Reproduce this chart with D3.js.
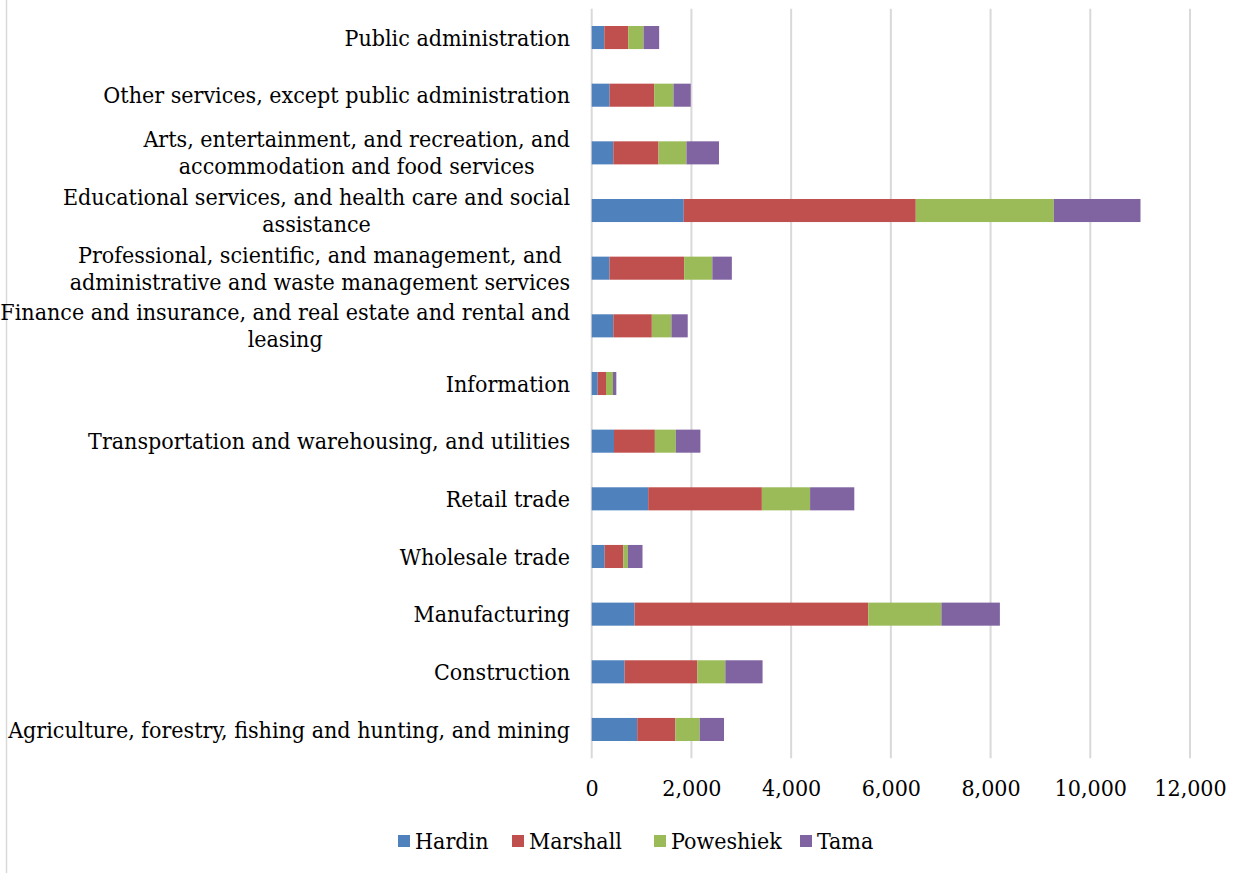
<!DOCTYPE html>
<html>
<head>
<meta charset="utf-8">
<script src="https://cdn.jsdelivr.net/npm/d3@7"></script>
<style>
  html, body { margin: 0; padding: 0; background: #fff; }
  svg { display: block; }
  text { font-family: "DejaVu Serif Condensed", "DejaVu Serif", serif; font-stretch: condensed; fill: #000; }
</style>
</head>
<body>
<svg id="chart" width="1250" height="873"></svg>
<script>
// Industries, top to bottom; each entry is a list of label lines
const industries = [
  ["Public administration"],
  ["Other services, except public administration"],
  ["Arts, entertainment, and recreation, and", "accommodation and food services"],
  ["Educational services, and health care and social", "assistance"],
  ["Professional, scientific, and management, and", "administrative and waste management services"],
  ["Finance and insurance, and real estate and rental and", "leasing"],
  ["Information"],
  ["Transportation and warehousing, and utilities"],
  ["Retail trade"],
  ["Wholesale trade"],
  ["Manufacturing"],
  ["Construction"],
  ["Agriculture, forestry, fishing and hunting, and mining"]
];

// Employment by county, same order as industries
const hardin    = [253, 360, 433, 1846, 357, 433, 120, 447, 1133, 260, 860, 660, 913];
const marshall  = [480, 893, 907, 4654, 1497, 773, 167, 820, 2280, 373, 4687, 1460, 767];
const poweshiek = [307, 387, 560, 2769, 565, 393, 140, 420, 967, 93, 1467, 560, 487];
const tama      = [313, 347, 653, 1738, 392, 327, 67, 493, 887, 293, 1173, 747, 487];

const countyNames = ["Hardin", "Marshall", "Poweshiek", "Tama"];
const countyColors = ["#4F81BD", "#C0504D", "#9BBB59", "#8064A2"];
const xTickValues = [0, 2000, 4000, 6000, 8000, 10000, 12000];

const svg = d3.select("#chart");
const plot = { left: 591.7, right: 1190, top: 8.7, bottom: 758.3 };
const labelRight = 570;
const fontSize = 23;

const rows = industries.map((lines, i) => ({
  key: lines.join(" "),
  Hardin: hardin[i], Marshall: marshall[i], Poweshiek: poweshiek[i], Tama: tama[i]
}));

const x = d3.scaleLinear().domain([0, 12000]).range([plot.left, plot.right]);
const y = d3.scaleBand().domain(rows.map(r => r.key)).range([plot.top, plot.bottom]).paddingInner(0.6).paddingOuter(0.3);
const color = d3.scaleOrdinal().domain(countyNames).range(countyColors);

// Chart frame edge on the left
svg.append("line")
  .attr("x1", 6.5).attr("x2", 6.5).attr("y1", 0).attr("y2", 873)
  .attr("stroke", "#d9d9d9").attr("stroke-width", 1.5);

// Vertical gridlines (including the zero line)
svg.append("g")
  .selectAll("line")
  .data(xTickValues)
  .join("line")
  .attr("x1", d => x(d)).attr("x2", d => x(d))
  .attr("y1", plot.top).attr("y2", plot.bottom)
  .attr("stroke", "#d9d9d9").attr("stroke-width", 2);

// Stacked bars
const stacked = d3.stack().keys(countyNames)(rows);
svg.append("g")
  .selectAll("g")
  .data(stacked)
  .join("g")
  .attr("fill", d => color(d.key))
  .selectAll("rect")
  .data(d => d)
  .join("rect")
  .attr("x", d => x(d[0]))
  .attr("width", d => x(d[1]) - x(d[0]))
  .attr("y", d => y(d.data.key))
  .attr("height", y.bandwidth());

// X axis tick labels
const xAxis = d3.axisBottom(x).tickValues(xTickValues).tickFormat(d3.format(",")).tickSize(0).tickPadding(0);
const gx = svg.append("g").attr("transform", `translate(0,${plot.bottom + 20})`).call(xAxis);
gx.select(".domain").remove();
gx.selectAll("text")
  .attr("font-family", null)
  .style("font-size", fontSize + "px")
  .attr("dy", "0.32em")
  .attr("y", 10);

// Category labels (multi-line labels are centred within their block)
const lineHeight = 27;
const labels = svg.append("g");
industries.forEach((lines, i) => {
  const cy = y(rows[i].key) + y.bandwidth() / 2;
  const g = labels.append("g");
  const texts = lines.map((ln, j) =>
    g.append("text")
      .attr("y", cy + (j - (lines.length - 1) / 2) * lineHeight)
      .attr("dy", "0.35em")
      .style("font-size", fontSize + "px")
      .text(ln));
  const widths = texts.map(t => t.node().getComputedTextLength());
  const maxW = d3.max(widths);
  const centre = labelRight - maxW / 2;
  texts.forEach(t => t.attr("x", centre).attr("text-anchor", "middle"));
});

// Legend
const legendItems = [
  { name: "Hardin", x: 398 },
  { name: "Marshall", x: 512 },
  { name: "Poweshiek", x: 654 },
  { name: "Tama", x: 800 }
];
const legend = svg.append("g").attr("transform", "translate(0,841)");
legendItems.forEach(item => {
  legend.append("rect")
    .attr("x", item.x).attr("y", -6)
    .attr("width", 12).attr("height", 12)
    .attr("fill", color(item.name));
  legend.append("text")
    .attr("x", item.x + 17).attr("y", 0)
    .attr("dy", "0.35em")
    .style("font-size", fontSize + "px")
    .text(item.name);
});
</script>
</body>
</html>
